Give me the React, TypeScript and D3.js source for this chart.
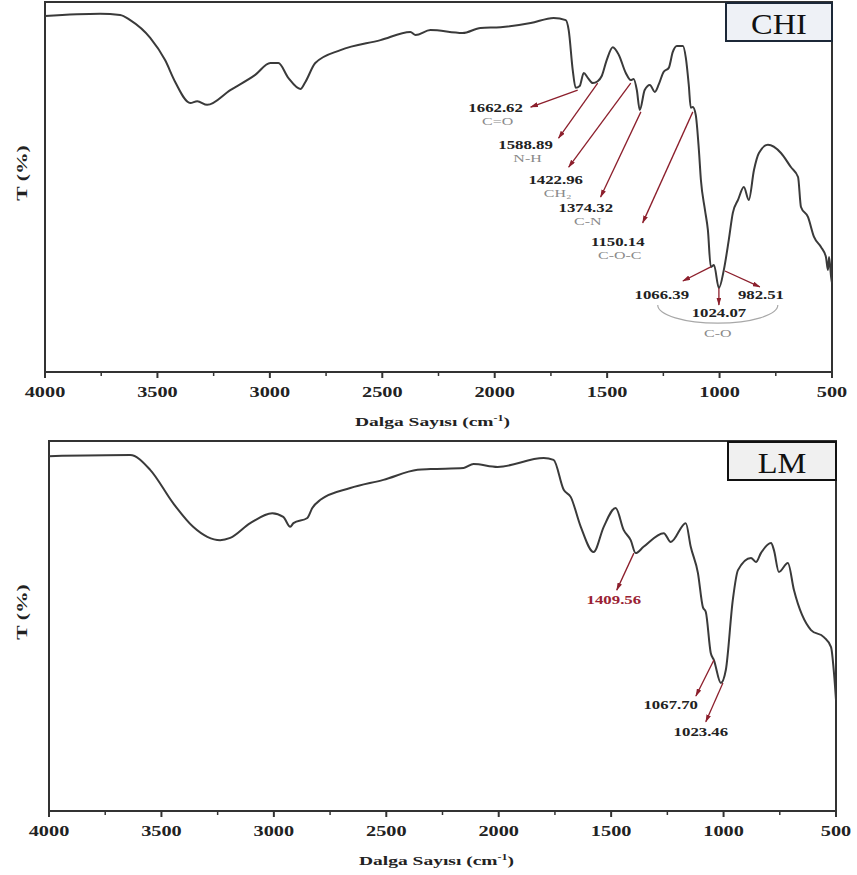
import React from "react";
import * as d3 from "d3";

const xTicks = [4000, 3500, 3000, 2500, 2000, 1500, 1000, 500];
const xMinorTicks = [3750, 3250, 2750, 2250, 1750, 1250, 750];

// CHI spektrumu (dalga sayısı, %T)
const chiWave = [
  4000, 3755, 3666, 3621, 3532, 3466, 3421, 3354, 3323, 3279, 3176, 3065, 2998, 2962, 2918, 2864,
  2842, 2798, 2686, 2508, 2375, 2352, 2286, 2143, 2063, 1974, 1840, 1738, 1684, 1671, 1653, 1640,
  1622, 1604, 1586, 1564, 1542, 1524, 1502, 1475, 1448, 1417, 1395, 1382, 1368, 1355, 1333, 1310,
  1288, 1270, 1249, 1226, 1208, 1190, 1163, 1150, 1137, 1128, 1119, 1106, 1092, 1083, 1065, 1052,
  1039, 1025, 1003, 981, 959, 941, 918, 892, 870, 847, 825, 785, 727, 683, 651, 638, 607, 580, 549,
  527, 518, 513, 504, 500,
];
const chiT = [
  96.2, 96.8, 96.5, 95.1, 90.3, 84.3, 78.4, 72.7, 73.2, 72.2, 76.2, 80.3, 83.5, 83.5, 79.5, 76.5,
  78.4, 83.5, 87.0, 89.7, 91.9, 91.1, 92.4, 91.6, 93.0, 93.2, 94.3, 95.7, 95.1, 92.4, 81.6, 76.8,
  77.3, 80.8, 79.5, 78.1, 78.6, 80.0, 84.3, 87.8, 85.7, 80.8, 78.9, 79.2, 76.2, 70.8, 76.2, 77.6,
  75.7, 77.8, 81.1, 82.2, 86.5, 88.1, 88.1, 84.9, 77.6, 71.4, 71.6, 69.5, 60.0, 51.9, 43.8, 38.4,
  28.4, 28.9, 22.7, 27.6, 35.7, 43.0, 46.5, 50.0, 46.5, 54.6, 59.2, 61.4, 59.2, 55.4, 52.7, 44.6, 41.9,
  36.5, 33.8, 31.1, 27.6, 31.1, 25.7, 24.1,
];

// LM spektrumu
const lmWave = [
  4000, 3639, 3550, 3448, 3359, 3296, 3239, 3194, 3105, 3007, 2958, 2927, 2913, 2851, 2829, 2793,
  2660, 2513, 2361, 2303, 2156, 2112, 2005, 1800, 1756, 1711, 1680, 1635, 1578, 1533, 1480, 1444,
  1413, 1391, 1356, 1266, 1235, 1168, 1146, 1114, 1092, 1079, 1057, 1043, 1012, 990, 959, 936, 878,
  856, 834, 789, 776, 754, 714, 687, 611, 554, 522, 509, 500,
];
const lmT = [
  95.9, 96.2, 92.2, 83.2, 76.8, 74.1, 73.2, 73.8, 77.8, 80.5, 79.5, 76.8, 77.8, 79.2, 81.9, 84.1,
  87.3, 89.5, 92.2, 92.4, 92.7, 93.8, 93.0, 95.4, 94.9, 86.8, 84.9, 76.8, 70.0, 76.8, 81.9, 75.9,
  73.2, 69.7, 71.4, 75.1, 72.7, 77.8, 71.4, 64.3, 55.1, 53.8, 42.7, 40.8, 34.6, 38.1, 57.0, 65.1, 68.4,
  67.3, 69.7, 72.4, 70.5, 64.6, 67.0, 59.7, 48.9, 47.0, 44.3, 37.3, 30.0,
];

type Note = {
  peak: string;
  group?: string;
  at: [number, number];
  tail: [number, number];
  text: [number, number];
  color?: string;
};

const chiNotes: Note[] = [
  { peak: "1662.62", group: "C=O", at: [1631, 76.2], tail: [1840, 71.6], text: [1996, 70.3] },
  { peak: "1588.89", group: "N-H", at: [1542, 78.1], tail: [1716, 63.2], text: [1863, 60.3] },
  { peak: "1422.96", group: "CH₂", at: [1395, 78.1], tail: [1671, 55.4], text: [1729, 50.8] },
  { peak: "1374.32", group: "C-N", at: [1350, 70.3], tail: [1529, 47.3], text: [1595, 43.2] },
  { peak: "1150.14", group: "C-O-C", at: [1119, 70.3], tail: [1342, 40.3], text: [1453, 34.1] },
  { peak: "1066.39", at: [1039, 28.4], tail: [1163, 24.6], text: [1257, 19.7] },
  { peak: "1024.07", at: [1003, 22.7], tail: [1003, 18.1], text: [1003, 14.9] },
  { peak: "982.51", at: [976, 27.3], tail: [821, 23.0], text: [816, 19.7] },
];
// C-O grubu: yay ve etiket
const chiGroupArc = { center: [1008, 18.1], rx: 267, ry: 4.9, label: "C-O", labelAt: [1008, 9.5] };

const lmNotes: Note[] = [
  { peak: "1409.56", at: [1399, 69.7], tail: [1475, 59.7], text: [1488, 55.9], color: "#9a2233" },
  { peak: "1067.70", at: [1043, 40.8], tail: [1123, 31.1], text: [1235, 27.6] },
  { peak: "1023.46", at: [1003, 34.6], tail: [1079, 24.1], text: [1101, 20.3] },
];

const SERIF = "'Liberation Serif', 'Times New Roman', serif";
const ARROW = "#8c1f2c";

type TextProps = {
  x: number;
  y: number;
  sx?: number;
  rotate?: number;
  size: number;
  weight?: string;
  fill?: string;
  children: React.ReactNode;
};

const SText = ({ x, y, sx = 1.45, rotate = 0, size, weight = "bold", fill = "#222", children }: TextProps) => (
  <text
    transform={`translate(${x},${y}) rotate(${rotate}) scale(${sx},1)`}
    textAnchor="middle"
    fontFamily={SERIF}
    fontSize={size}
    fontWeight={weight}
    fill={fill}
  >
    {children}
  </text>
);

type Frame = { left: number; right: number; top: number; bottom: number };

type PanelProps = {
  frame: Frame;
  wave: number[];
  trans: number[];
  notes: Note[];
  name: string;
  boxFill: string;
  boxStroke: string;
  boxWidth: number;
  arc?: typeof chiGroupArc;
};

const Panel = ({ frame, wave, trans, notes, name, boxFill, boxStroke, boxWidth, arc }: PanelProps) => {
  const x = d3.scaleLinear().domain([4000, 500]).range([frame.left, frame.right]);
  const y = d3.scaleLinear().domain([0, 100]).range([frame.bottom, frame.top]);
  const pts: [number, number][] = wave.map((w, i) => [w, trans[i]]);
  const line = d3
    .line<[number, number]>()
    .x((d) => x(d[0]))
    .y((d) => y(d[1]))
    .curve(d3.curveMonotoneX);

  const midX = (frame.left + frame.right) / 2;
  const midY = (frame.top + frame.bottom) / 2;

  return (
    <g>
      {/* çerçeve */}
      <rect
        x={frame.left}
        y={frame.top}
        width={frame.right - frame.left}
        height={frame.bottom - frame.top}
        fill="none"
        stroke="#333"
        strokeWidth={2}
      />
      {xTicks.map((t) => (
        <g key={t}>
          <line x1={x(t)} x2={x(t)} y1={frame.bottom} y2={frame.bottom + 6} stroke="#333" strokeWidth={2} />
          <SText x={x(t)} y={frame.bottom + 25} size={14}>
            {t}
          </SText>
        </g>
      ))}
      {xMinorTicks.map((t) => (
        <line key={t} x1={x(t)} x2={x(t)} y1={frame.bottom} y2={frame.bottom + 4} stroke="#333" strokeWidth={1.5} />
      ))}
      <text
        transform={`translate(${midX - 6},${frame.bottom + 54}) scale(1.5,1)`}
        textAnchor="middle"
        fontFamily={SERIF}
        fontSize={13}
        fontWeight="bold"
        fill="#222"
      >
        Dalga Sayısı (cm
        <tspan fontSize={8} dy={-5}>
          -1
        </tspan>
        <tspan dy={5}>)</tspan>
      </text>
      <SText x={27} y={midY - 14} rotate={-90} sx={1.55} size={14}>
        T (%)
      </SText>

      <path d={line(pts) ?? ""} fill="none" stroke="#3a3a3a" strokeWidth={2} strokeLinejoin="round" />

      {notes.map((n) => (
        <g key={n.peak}>
          <line
            x1={x(n.at[0])}
            y1={y(n.at[1])}
            x2={x(n.tail[0])}
            y2={y(n.tail[1])}
            stroke={ARROW}
            strokeWidth={1.3}
            markerEnd="url(#arrowHead)"
          />
          <SText x={x(n.text[0])} y={y(n.text[1])} size={12} sx={1.4} fill={n.color ?? "#222"}>
            {n.peak}
          </SText>
          {n.group && (
            <SText x={x(n.text[0]) + 2} y={y(n.text[1]) + 13} size={11} sx={1.45} weight="normal" fill="#8a8a8a">
              {n.group}
            </SText>
          )}
        </g>
      ))}

      {arc && (
        <g>
          <path
            d={`M${x(arc.center[0]) - (x(arc.center[0] - arc.rx) - x(arc.center[0]))},${y(arc.center[1])} A${
              x(arc.center[0] - arc.rx) - x(arc.center[0])
            },${y(arc.center[1] - arc.ry) - y(arc.center[1])} 0 0 0 ${x(arc.center[0] - arc.rx)},${y(arc.center[1])}`}
            fill="none"
            stroke="#a8a8a8"
            strokeWidth={1.2}
          />
          <SText x={x(arc.labelAt[0])} y={y(arc.labelAt[1])} size={11} sx={1.45} weight="normal" fill="#8a8a8a">
            {arc.label}
          </SText>
        </g>
      )}

      <rect
        x={frame.right - boxWidth}
        y={frame.top + 1}
        width={boxWidth}
        height={38}
        fill={boxFill}
        stroke={boxStroke}
        strokeWidth={2}
      />
      <SText
        x={frame.right - boxWidth / 2}
        y={frame.top + 32}
        size={30}
        sx={1.08}
        weight="normal"
        fill="#111"
      >
        {name}
      </SText>
    </g>
  );
};

export default function App() {
  return (
    <svg
      width={857}
      height={875}
      style={{ position: "absolute", left: 0, top: 0, background: "#fff" }}
    >
      <defs>
        <marker
          id="arrowHead"
          viewBox="0 0 10 6"
          refX={9}
          refY={3}
          markerWidth={8}
          markerHeight={5}
          markerUnits="userSpaceOnUse"
          orient="auto"
        >
          <path d="M0,0 L10,3 L0,6 z" fill={ARROW} />
        </marker>
      </defs>
      <rect width={857} height={875} fill="#fff" />
      <Panel
        frame={{ left: 45, right: 832, top: 2, bottom: 372 }}
        wave={chiWave}
        trans={chiT}
        notes={chiNotes}
        name="CHI"
        boxFill="#eef1f6"
        boxStroke="#1c2838"
        boxWidth={106}
        arc={chiGroupArc}
      />
      <Panel
        frame={{ left: 49, right: 836, top: 441, bottom: 811 }}
        wave={lmWave}
        trans={lmT}
        notes={lmNotes}
        name="LM"
        boxFill="#f0f0f0"
        boxStroke="#111"
        boxWidth={108}
      />
    </svg>
  );
}
